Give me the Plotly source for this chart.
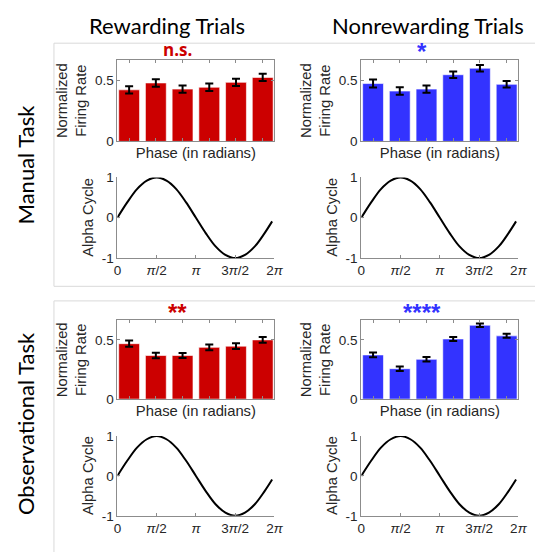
import plotly.graph_objects as go

# the page body adds an 8px margin, so the figure is a bit smaller and offset
OFF = 8
W, H = 543 - OFF, 552 - OFF

phase_bins = [1, 2, 3, 4, 5, 6]

manual_reward = [0.42, 0.476, 0.426, 0.441, 0.481, 0.521]
manual_reward_err = [0.03, 0.03, 0.03, 0.03, 0.03, 0.03]
manual_nonreward = [0.471, 0.41, 0.426, 0.543, 0.596, 0.465]
manual_nonreward_err = [0.033, 0.03, 0.03, 0.027, 0.027, 0.027]
obs_reward = [0.468, 0.368, 0.368, 0.437, 0.447, 0.5]
obs_reward_err = [0.026, 0.024, 0.022, 0.024, 0.024, 0.024]
obs_nonreward = [0.373, 0.257, 0.336, 0.508, 0.624, 0.534]
obs_nonreward_err = [0.02, 0.019, 0.019, 0.017, 0.015, 0.017]

# alpha cycle read at pi/8 steps
alpha_phase = [0.0, 0.393, 0.785, 1.178, 1.571, 1.963, 2.356, 2.749, 3.142,
               3.534, 3.927, 4.320, 4.712, 5.105, 5.498, 5.890, 6.19]
alpha_vals = [0.0, 0.38, 0.71, 0.92, 1.0, 0.92, 0.71, 0.38, 0.0,
              -0.38, -0.71, -0.92, -1.0, -0.92, -0.71, -0.38, -0.09]

phase_ticks = [0, 1.5708, 3.1416, 4.7124, 6.2832]
phase_labels = ["0", "<i>π</i>/2", "<i>π</i>", "3<i>π</i>/2", "2<i>π</i>"]

RED = "#cc0000"
BLUE = "#3333ff"
AX = "#8c8c8c"
TXT = "#262626"
FONT = "Liberation Sans, Arial, sans-serif"

panels = [
    # (bar values, errors, colour, left px, bar top, bar bottom, sine top, sine bottom, sig)
    (manual_reward, manual_reward_err, RED, 116, 54, 138, 175, 258, "n.s."),
    (manual_nonreward, manual_nonreward_err, BLUE, 366, 54, 138, 175, 258, "*"),
    (obs_reward, obs_reward_err, RED, 116, 322, 403, 441, 523, "**"),
    (obs_nonreward, obs_nonreward_err, BLUE, 366, 322, 403, 441, 523, "****"),
]


def fx(px):
    return (px - OFF) / W


def fy(py):
    return 1 - (py - OFF) / H


fig = go.Figure()
annotations = []
shapes = []

for i, (vals, errs, col, left, bt, bb, st, sb, sig) in enumerate(panels):
    right = left + 161
    bi = 2 * i + 1
    si = 2 * i + 2
    bx = "x" if bi == 1 else f"x{bi}"
    by = "y" if bi == 1 else f"y{bi}"
    sx = f"x{si}"
    sy = f"y{si}"

    fig.add_trace(go.Bar(
        x=phase_bins, y=vals, xaxis=bx, yaxis=by, width=0.78,
        marker=dict(color=col, line=dict(color="rgba(255,255,255,0.6)", width=1)),
        error_y=dict(type="data", array=errs, color="black", thickness=2, width=4),
        showlegend=False,
    ))
    fig.add_trace(go.Scatter(
        x=alpha_phase, y=alpha_vals, xaxis=sx, yaxis=sy, mode="lines",
        line=dict(color="black", width=2, shape="spline", smoothing=1.0),
        showlegend=False,
    ))

    common = dict(showgrid=False, zeroline=False, linecolor=AX, linewidth=1,
                  tickfont=dict(family=FONT, size=13.5, color=TXT))
    fig.layout[bx.replace("x", "xaxis")] = dict(
        domain=[fx(left), fx(right)], anchor=by, range=[0.56, 6.44],
        showline=True, mirror="ticks", ticks="inside", ticklen=3, tickcolor=AX,
        tickvals=phase_bins, showticklabels=False,
        title=dict(text="Phase (in radians)", standoff=6,
                   font=dict(family=FONT, size=14.8, color=TXT)),
        **{k: v for k, v in common.items() if k != "tickfont"})
    fig.layout[by.replace("y", "yaxis")] = dict(
        domain=[fy(bb), fy(bt)], anchor=bx, range=[0, 0.665],
        showline=True, mirror="ticks", ticks="inside", ticklen=3, tickcolor=AX,
        tickvals=[0, 0.5], ticktext=["0", "0.5"],
        **common)
    fig.layout[sx.replace("x", "xaxis")] = dict(
        domain=[fx(left), fx(right)], anchor=sy, range=[0, 6.2832],
        showline=True, ticks="inside", ticklen=3, tickcolor=AX,
        tickvals=phase_ticks, ticktext=phase_labels, **common)
    fig.layout[sy.replace("y", "yaxis")] = dict(
        domain=[fy(sb), fy(st)], anchor=sx, range=[-1, 1],
        showline=True, ticks="inside", ticklen=3, tickcolor=AX,
        tickvals=[-1, 0, 1], ticktext=["-1", "0", "1"], **common)

    # y-axis titles as annotations so they sit where the reference puts them
    annotations.append(dict(
        x=fx(left - 47), y=fy((bt + bb) / 2), xref="paper", yref="paper",
        text="Normalized<br>Firing Rate", textangle=-90, showarrow=False,
        font=dict(family=FONT, size=14.8, color=TXT), xanchor="center", yanchor="middle"))
    annotations.append(dict(
        x=fx(left - 30), y=fy((st + sb) / 2), xref="paper", yref="paper",
        text="Alpha Cycle", textangle=-90, showarrow=False,
        font=dict(family=FONT, size=14.8, color=TXT), xanchor="center", yanchor="middle"))
    if sig == "n.s.":
        sig_font = dict(family="Open Sans, sans-serif", size=17, color=col)
        sig_y = bt - 11
    else:
        sig_font = dict(family=FONT, size=24, color=col)
        sig_y = bt - 8
    annotations.append(dict(
        x=fx(left + 62), y=fy(sig_y), xref="paper", yref="paper",
        text=f"<b>{sig}</b>", showarrow=False, font=sig_font, borderpad=0,
        xanchor="center", yanchor="middle"))

# column headers
for txt, cx in [("Rewarding Trials", 167), ("Nonrewarding Trials", 434)]:
    annotations.append(dict(
        x=fx(cx), y=fy(18.5), xref="paper", yref="paper", text=txt, showarrow=False,
        font=dict(family="Lato, sans-serif", size=22, color="black"), borderpad=0,
        xanchor="center", yanchor="middle"))

# row headers
for txt, cy in [("Manual Task", 162), ("Observational Task", 428)]:
    annotations.append(dict(
        x=fx(22), y=fy(cy), xref="paper", yref="paper", text=txt, textangle=-90,
        showarrow=False, font=dict(family="Lato, sans-serif", size=22, color="black"),
        xanchor="center", yanchor="middle"))

# light panel frames
for top, bottom in [(37, 287), (302, 570)]:
    shapes.append(dict(type="rect", xref="paper", yref="paper",
                       x0=fx(51), x1=1.05, y0=fy(bottom), y1=fy(top),
                       line=dict(color="#d9d9d9", width=1), layer="below"))

fig.update_layout(
    width=W, height=H,
    margin=dict(l=0, r=0, t=0, b=0),
    paper_bgcolor="white", plot_bgcolor="white",
    annotations=annotations, shapes=shapes,
    bargap=0.2,
)

fig.write_html("out.html")
